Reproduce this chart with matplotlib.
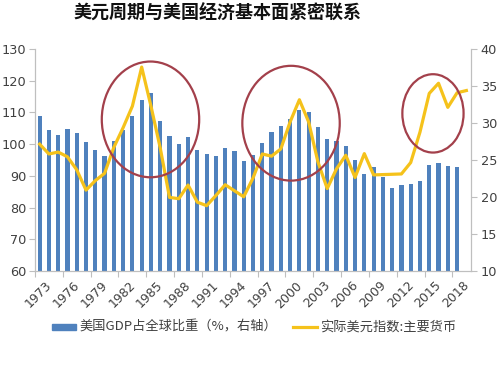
import numpy as np
import matplotlib
matplotlib.use("Agg")
import matplotlib.pyplot as plt
from matplotlib.patches import Ellipse

plt.rcParams['font.family'] = ['Noto Sans CJK SC', 'DejaVu Sans']

# ================================
# DATA
# ================================
years = list(range(1973, 2020))

# 美国GDP占全球比重 (%, right axis), 1973-2018
gdp_share = [30.9, 29.05, 28.4, 29.15, 28.6, 27.4, 26.35, 25.5, 27.6, 29.05,
             30.95, 33.1, 34.0, 30.3, 28.2, 27.2, 28.1, 26.35, 25.75, 25.6,
             26.6, 26.25, 24.8, 25.7, 27.25, 28.8, 29.6, 30.5, 31.7, 31.55,
             29.45, 27.9, 27.5, 26.85, 25.0, 23.15, 24.0, 22.75, 21.25, 21.65,
             21.75, 22.1, 24.3, 24.55, 24.15, 24.0]

# 实际美元指数:主要货币 (left axis), 1973-2019
dollar_idx = [100.0, 96.9, 97.5, 96.0, 91.9, 85.5, 88.5, 90.8, 99.0, 105.2,
              112.0, 124.3, 112.0, 98.8, 83.2, 82.8, 87.1, 81.7, 80.6, 83.8,
              87.2, 85.3, 83.4, 89.3, 96.9, 96.2, 98.5, 107.0, 114.0, 107.0,
              94.4, 86.0, 92.2, 96.5, 89.5, 97.0, 90.3, 90.4, 90.5, 90.6,
              94.2, 103.8, 116.0, 119.2, 111.6, 116.2, 116.9]

label_years = years[:-1:3]

BAR_COLOR = '#4F81BD'
LINE_COLOR = '#F5C21B'
RING_COLOR = '#A3404B'
TXT = '#404040'
AXC = '#BFBFBF'

# ================================
# PLOT
# ================================
fig = plt.figure(figsize=(5, 3.69), dpi=100)
ax = fig.add_axes([0.07, 0.2656, 0.872, 0.6016])
ax2 = ax.twinx()

x_bar = np.arange(len(gdp_share))
x_line = np.arange(len(dollar_idx))

ax2.bar(x_bar, gdp_share, width=0.45, color=BAR_COLOR, zorder=2)
ax.plot(x_line, dollar_idx, color=LINE_COLOR, lw=2.3, solid_joinstyle='round', zorder=3)

# line axis on top of the bar axis
ax.set_zorder(ax2.get_zorder() + 1)
ax.patch.set_visible(False)

ax.set_xlim(-0.5, len(years) - 0.5)
ax.set_ylim(60, 130)
ax.set_yticks(range(60, 131, 10))
ax2.set_ylim(10, 40)
ax2.set_yticks(range(10, 41, 5))

# category ticks: marks at boundaries, labels at centres
ax.set_xticks(np.arange(-0.5, len(years), 3))
ax.set_xticklabels([])
ax.tick_params(axis='x', length=4, color=AXC)
for i, yr in enumerate(years):
    if yr in label_years:
        ax.text(i + 0.6, 57.5, str(yr), rotation=45, ha='right', va='top',
                rotation_mode='anchor', fontsize=9, color=TXT, family='DejaVu Sans')

for a in (ax, ax2):
    a.spines['top'].set_visible(False)
    for s in ('left', 'right', 'bottom'):
        a.spines[s].set_color(AXC)
    a.tick_params(axis='y', length=4, color=AXC, labelcolor=TXT, labelsize=9.3)
for lbl in ax.get_yticklabels() + ax2.get_yticklabels():
    lbl.set_family('DejaVu Sans')
ax.tick_params(axis='y', pad=2)
ax2.tick_params(axis='y', pad=3)

# red rings
rings = [(11.95, 107.8, 10.5, 36.5),
         (27.1, 106.6, 10.5, 36.2),
         (42.4, 109.7, 6.6, 24.7)]
for cx, cy, w, h in rings:
    ax.add_patch(Ellipse((cx, cy), w, h, fill=False, ec=RING_COLOR, lw=1.6,
                         zorder=4, clip_on=False))

fig.text(0.436, 0.965, '美元周期与美国经济基本面紧密联系', ha='center', va='center',
         fontsize=13, fontweight='bold', color='#111111')

# legend
fig.patches.append(plt.Rectangle((51.5 / 500, 1 - 330 / 369), 24.5 / 500, 6 / 369,
                                 transform=fig.transFigure, color=BAR_COLOR, figure=fig))
fig.text(79 / 500, 1 - 327 / 369, '美国GDP占全球比重（%，右轴）', ha='left', va='center',
         fontsize=9.5, color=TXT)
fig.lines.append(plt.Line2D([293 / 500, 317 / 500], [1 - 327 / 369, 1 - 327 / 369],
                            transform=fig.transFigure, color=LINE_COLOR, lw=2.3, figure=fig))
fig.text(320 / 500, 1 - 327 / 369, '实际美元指数:主要货币', ha='left', va='center',
         fontsize=9.5, color=TXT)

plt.savefig("out.png", dpi=100)
